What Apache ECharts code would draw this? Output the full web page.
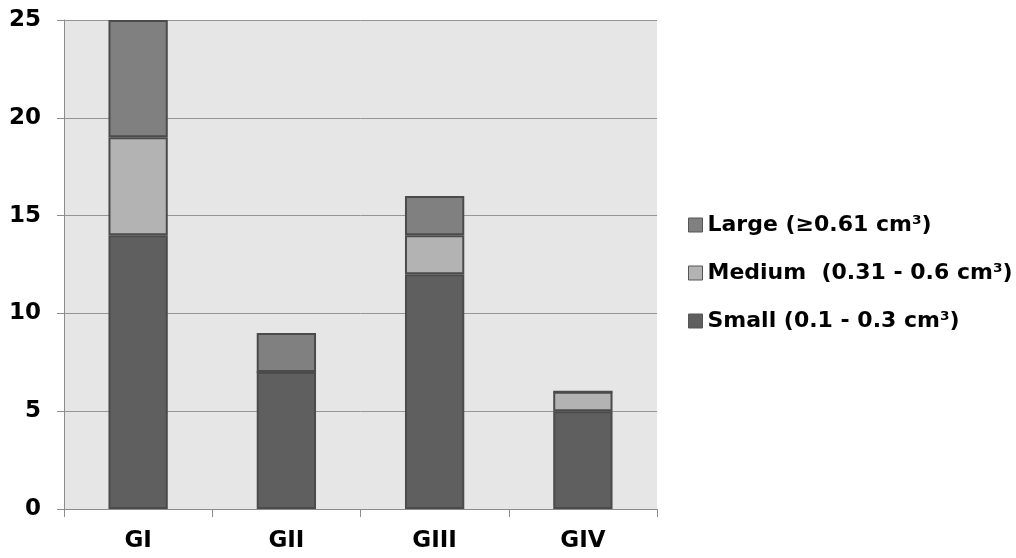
<!DOCTYPE html>
<html>
<head>
<meta charset="utf-8">
<script src="https://cdn.jsdelivr.net/npm/echarts@6/dist/echarts.min.js"></script>
<style>
html,body{margin:0;padding:0;background:#fff;}
#c{width:1016px;height:558px;}
</style>
</head>
<body>
<div id="c"></div>
<script>
const categories = ['GI', 'GII', 'GIII', 'GIV'];
const seriesNames = ['Small (0.1 - 0.3 cm³)', 'Medium  (0.31 - 0.6 cm³)', 'Large (≥0.61 cm³)'];
const smallValues = [14, 7, 12, 5];
const mediumValues = [5, 0, 2, 1];
const largeValues = [6, 2, 2, 0];
const yTicks = [0, 5, 10, 15, 20, 25];

const colors = ['#5f5f5f', '#b3b3b3', '#808080'];
const font = 'DejaVu Sans, Liberation Sans, sans-serif';

const chart = echarts.init(document.getElementById('c'), null, {renderer: 'canvas'});
const mk = (name, data, color) => ({
  name, type: 'bar', stack: 'total', data, barWidth: '40%',
  itemStyle: {color, borderColor: '#4b4b4b', borderWidth: 2},
  emphasis: {disabled: true}
});
chart.setOption({
  animation: false,
  grid: {left: 64, right: 359, top: 20, bottom: 49, show: true, backgroundColor: '#e6e6e6', borderWidth: 0},
  legend: {
    orient: 'vertical', left: 683, top: 209, itemWidth: 14, itemHeight: 14, itemGap: 26,
    icon: 'rect',
    data: [seriesNames[2], seriesNames[1], seriesNames[0]],
    textStyle: {fontFamily: font, fontWeight: 'bold', fontSize: 22, color: '#000', padding: [0, 0, 0, 0]},
    itemStyle: {borderColor: '#555', borderWidth: 1}
  },
  xAxis: {
    type: 'category', data: categories,
    axisLine: {lineStyle: {color: '#8c8c8c', width: 1}},
    axisTick: {show: true, length: 8, lineStyle: {color: '#8c8c8c'}},
    axisLabel: {fontFamily: font, fontWeight: 'bold', fontSize: 23, color: '#000', margin: 21}
  },
  yAxis: {
    type: 'value', min: yTicks[0], max: yTicks[yTicks.length - 1], interval: 5,
    axisLine: {show: true, lineStyle: {color: '#8c8c8c', width: 1}},
    axisTick: {show: true, length: 7, lineStyle: {color: '#8c8c8c'}},
    splitLine: {lineStyle: {color: '#959595', width: 1}},
    axisLabel: {fontFamily: font, fontWeight: 'bold', fontSize: 23, color: '#000', margin: 23, padding: [3, 0, 0, 0]}
  },
  series: [
    mk(seriesNames[0], smallValues, colors[0]),
    mk(seriesNames[1], mediumValues, colors[1]),
    mk(seriesNames[2], largeValues, colors[2])
  ]
});
</script>
</body>
</html>
